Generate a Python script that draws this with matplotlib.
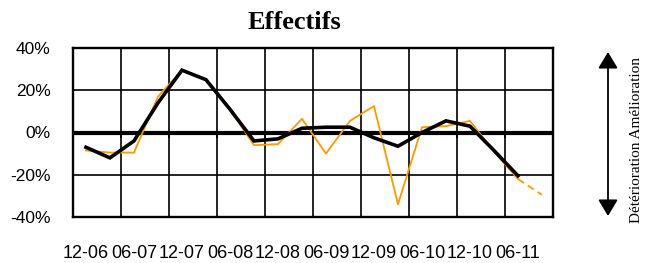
import matplotlib
matplotlib.use("Agg")
import matplotlib.pyplot as plt
import numpy as np

# Data (quarterly, %)
black_vals = [-7, -12, -4, 14, 29.5, 25, 11, -4, -3, 2, 2.5, 2.5, -2.5, -6.5, 0, 5.5, 3, -8.5, -20.5]
orange_vals = [-8.5, -9.5, -9.5, 17, 29.5, 25, 11, -6, -5.5, 6.5, -10, 5.5, 12.5, -34, 2.5, 3, 5.5, -9, -22, -29.5]
x_labels = ["12-06", "06-07", "12-07", "06-08", "12-08", "06-09", "12-09", "06-10", "12-10", "06-11"]
y_ticks = [-40, -20, 0, 20, 40]
title = "Effectifs"
side_text = "Détérioration Amélioration"

W, H = 653, 263
fig = plt.figure(figsize=(W / 100, H / 100), dpi=100)
ax = fig.add_axes([73 / W, 1 - 217 / H, 480 / W, 169 / H])

step = 0.5
offset = 0.27
xb = offset + step * np.arange(len(black_vals))
xo = offset + step * np.arange(len(orange_vals))

# grid
for gx in range(0, 11):
    ax.axvline(gx, color="black", lw=1.2, zorder=1)
for gy in y_ticks:
    ax.axhline(gy, color="black", lw=1.2, zorder=1)
ax.axhline(0, color="black", lw=3.0, zorder=2)
ax.vlines(np.arange(0, 11), -2.4, 0, color="black", lw=1.2, zorder=2)

orange = "#FF9900"
ax.plot(xo[:-1], orange_vals[:-1], color=orange, lw=1.3, zorder=3)
ax.plot(xo[-2:], orange_vals[-2:], color=orange, lw=1.3, ls=(0, (4, 2.5)), zorder=3)
ax.plot(xb, black_vals, color="black", lw=2.6, zorder=4, solid_joinstyle="miter")

ax.set_xlim(0, 10)
ax.set_ylim(-40, 40)
ax.set_yticks(y_ticks)
ax.set_yticklabels([f"{v}%" for v in y_ticks], fontsize=12.5, family="Liberation Sans")
ax.set_xticks(offset + np.arange(len(x_labels)))
ax.set_xticklabels(x_labels, fontsize=13, family="Liberation Sans")
ax.tick_params(axis="both", length=0)
ax.tick_params(axis="x", pad=20)
ax.tick_params(axis="y", pad=16)
for s in ax.spines.values():
    s.set_linewidth(1.7)
    s.set_zorder(5)

fig.text(294 / W, 1 - 29 / H, title, ha="center", va="baseline",
         fontsize=19, fontweight="bold", family="Liberation Serif")

ax2 = fig.add_axes([0, 0, 1, 1], facecolor="none")
ax2.set_xlim(0, W)
ax2.set_ylim(H, 0)
ax2.axis("off")
ax2.annotate("", xy=(608, 52), xytext=(608, 216),
             arrowprops=dict(arrowstyle="<|-|>,head_length=1.0,head_width=0.6",
                             color="black", lw=1.3, shrinkA=0, shrinkB=0))
ax2.text(637, 140, side_text, rotation=90, ha="center", va="center",
         fontsize=11, family="Liberation Serif")

fig.savefig("out.png", dpi=100)
